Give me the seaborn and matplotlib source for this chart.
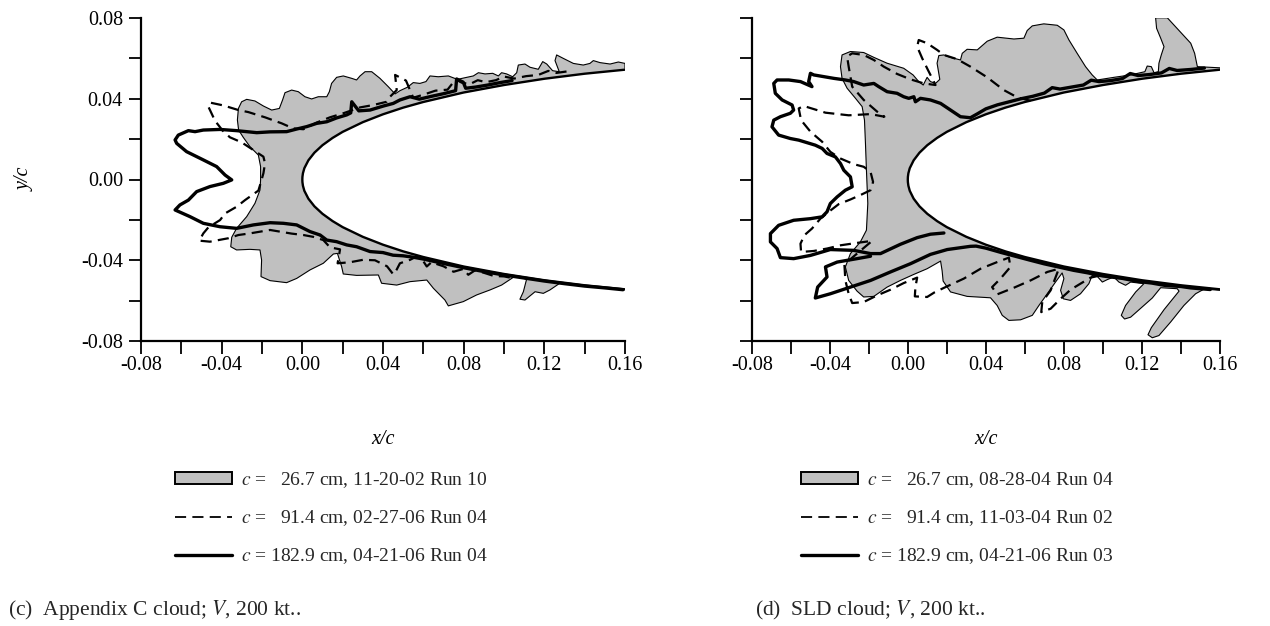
import matplotlib
matplotlib.use("Agg")
import matplotlib.pyplot as plt
from matplotlib.patches import Patch
from matplotlib.lines import Line2D
from matplotlib.ticker import FormatStrFormatter
import pandas as pd
import seaborn as sns

sns.set_theme(style="ticks")
plt.rcParams["font.family"] = ["Liberation Serif", "DejaVu Serif"]
plt.rcParams["mathtext.fontset"] = "stix"
plt.rcParams["axes.unicode_minus"] = False
plt.rcParams["lines.scale_dashes"] = False

# ---------------- data ----------------
# airfoil leading edge, upper surface
airfoil_x = [0.16, 0.14, 0.12, 0.10, 0.08, 0.06, 0.05, 0.04, 0.03, 0.02, 0.015,
             0.01, 0.006, 0.003, 0.001, 0.0003, 0.00005, 0.0]
airfoil_y = [0.0544, 0.0524, 0.0499, 0.0468, 0.0431, 0.0384, 0.0356, 0.0323, 0.0284,
             0.0236, 0.0206, 0.0170, 0.0133, 0.0095, 0.0056, 0.0031, 0.0013, 0.0]

x_major = [-0.08, -0.04, 0.0, 0.04, 0.08, 0.12, 0.16]
x_minor = [-0.06, -0.02, 0.02, 0.06, 0.10, 0.14]
y_major = [-0.08, -0.04, 0.0, 0.04, 0.08]
y_minor = [-0.06, -0.02, 0.02, 0.06]

# panel (c): c = 26.7 cm ice shape (grey)
c_grey_x = [0.1600, 0.1600, 0.1567, 0.1526, 0.1476, 0.1443, 0.1426, 0.1393, 0.1344, 0.1294,
            0.1261, 0.1253, 0.1274, 0.1241, 0.1212, 0.1192, 0.1170, 0.1129, 0.1104, 0.1071,
            0.1063, 0.1043, 0.1013, 0.0988, 0.0972, 0.0944, 0.0906, 0.0873, 0.0848, 0.0815,
            0.0769, 0.0724, 0.0674, 0.0633, 0.0613, 0.0583, 0.0550, 0.0521, 0.0484, 0.0460,
            0.0426, 0.0385, 0.0344, 0.0311, 0.0286, 0.0269, 0.0245, 0.0203, 0.0170, 0.0145,
            0.0134, 0.0121, 0.0079, 0.0046, 0.0013, -0.0020, -0.0053, -0.0086, -0.0098, -0.0114,
            -0.0152, -0.0193, -0.0235, -0.0276, -0.0301, -0.0317, -0.0322, -0.0316, -0.0293, -0.0260,
            -0.0218, -0.0207, -0.0207, -0.0210, -0.0235, -0.0276, -0.0326, -0.0350, -0.0355, -0.0326,
            -0.0260, -0.0210, -0.0202, -0.0205, -0.0160, -0.0078, -0.0028, 0.0038, 0.0104, 0.0154,
            0.0174, 0.0195, 0.0203, 0.0269, 0.0377, 0.0393, 0.0468, 0.0534, 0.0617, 0.0650,
            0.0707, 0.0724, 0.0798, 0.0864, 0.0931, 0.0988, 0.1038, 0.1055, 0.1112, 0.1096,
            0.1079, 0.1104, 0.1154, 0.1195, 0.1228, 0.1278]
c_grey_y = [0.0551, 0.0575, 0.0582, 0.0572, 0.0579, 0.0589, 0.0575, 0.0567, 0.0575, 0.0600,
            0.0617, 0.0589, 0.0534, 0.0539, 0.0572, 0.0584, 0.0546, 0.0556, 0.0572, 0.0567,
            0.0529, 0.0509, 0.0523, 0.0529, 0.0513, 0.0526, 0.0523, 0.0529, 0.0513, 0.0506,
            0.0496, 0.0513, 0.0509, 0.0513, 0.0485, 0.0476, 0.0480, 0.0457, 0.0440, 0.0424,
            0.0460, 0.0501, 0.0534, 0.0534, 0.0513, 0.0493, 0.0501, 0.0513, 0.0506, 0.0476,
            0.0435, 0.0410, 0.0410, 0.0399, 0.0410, 0.0435, 0.0443, 0.0430, 0.0394, 0.0352,
            0.0344, 0.0364, 0.0389, 0.0397, 0.0385, 0.0352, 0.0295, 0.0245, 0.0209, 0.0163,
            0.0121, 0.0064, -0.0002, -0.0052, -0.0118, -0.0184, -0.0242, -0.0286, -0.0333, -0.0349,
            -0.0346, -0.0349, -0.0399, -0.0481, -0.0501, -0.0511, -0.0490, -0.0448, -0.0415, -0.0369,
            -0.0366, -0.0432, -0.0468, -0.0475, -0.0473, -0.0514, -0.0523, -0.0506, -0.0498, -0.0539,
            -0.0597, -0.0626, -0.0605, -0.0572, -0.0547, -0.0523, -0.0490, -0.0478, -0.0494, -0.0556,
            -0.0593, -0.0597, -0.0556, -0.0564, -0.0547, -0.0513]

# panel (c): c = 91.4 cm (dashed)
c_dash_x = [0.131, 0.126, 0.122, 0.117, 0.111, 0.105, 0.100, 0.096, 0.091, 0.087,
            0.083, 0.079, 0.076, 0.072, 0.066, 0.060, 0.055, 0.0514, 0.0460, 0.0468,
            0.0430, 0.0418, 0.0352, 0.0286, 0.0203, 0.0137, 0.0071, 0.0005, -0.0045, -0.0102,
            -0.0185, -0.0268, -0.0317, -0.0392, -0.0458, -0.0466, -0.0433, -0.0395, -0.0359, -0.0301,
            -0.0243, -0.0193, -0.0185, -0.0193, -0.0207, -0.0218, -0.0284, -0.0326, -0.0383, -0.0408,
            -0.0466, -0.0491, -0.0511, -0.0458, -0.0367, -0.0317, -0.0260, -0.0160, -0.0053, 0.0005,
            0.0054, 0.0104, 0.0137, 0.0187, 0.0175, 0.0236, 0.0300, 0.0360, 0.0420, 0.0451,
            0.0468, 0.0484, 0.0534, 0.0567, 0.0600, 0.0617, 0.0640, 0.0700, 0.0750, 0.0798,
            0.0823, 0.0856, 0.0900, 0.0950, 0.1000, 0.1050]
c_dash_y = [0.0535, 0.0528, 0.0538, 0.0518, 0.0512, 0.0500, 0.0510, 0.0492, 0.0482, 0.0492,
            0.0472, 0.0480, 0.0496, 0.0445, 0.0440, 0.0420, 0.0405, 0.0490, 0.0518, 0.0443,
            0.0405, 0.0385, 0.0369, 0.0357, 0.0328, 0.0308, 0.0282, 0.0249, 0.0253, 0.0278,
            0.0308, 0.0334, 0.0344, 0.0367, 0.0381, 0.0361, 0.0291, 0.0242, 0.0209, 0.0184,
            0.0146, 0.0113, 0.0080, 0.0031, -0.0019, -0.0055, -0.0102, -0.0135, -0.0168, -0.0201,
            -0.0237, -0.0267, -0.0303, -0.0308, -0.0291, -0.0275, -0.0267, -0.0250, -0.0268, -0.0275,
            -0.0284, -0.0300, -0.0336, -0.0346, -0.0415, -0.0410, -0.0398, -0.0400, -0.0430, -0.0470,
            -0.0446, -0.0415, -0.0398, -0.0381, -0.0405, -0.0431, -0.0410, -0.0430, -0.0457, -0.0443,
            -0.0472, -0.0450, -0.0462, -0.0478, -0.0480, -0.0490]

# panel (c): c = 182.9 cm (solid)
c_solid_x = [0.104, 0.098, 0.092, 0.086, 0.081, 0.0798, 0.0765, 0.0760, 0.070, 0.064,
             0.058, 0.0534, 0.0484, 0.0451, 0.0402, 0.0336, 0.0280, 0.0245, 0.0240, 0.0220,
             0.0170, 0.0121, 0.0071, 0.0022, -0.0028, -0.0078, -0.0160, -0.0226, -0.0326, -0.0408,
             -0.0491, -0.0532, -0.0565, -0.0615, -0.0631, -0.0623, -0.0574, -0.0491, -0.0425, -0.0383,
             -0.0350, -0.0392, -0.0458, -0.0524, -0.0565, -0.0607, -0.0631, -0.0557, -0.0491, -0.0408,
             -0.0326, -0.0243, -0.0160, -0.0094, -0.0028, 0.0038, 0.0088, 0.0121, 0.0170, 0.0220,
             0.0269, 0.0336, 0.040, 0.045, 0.050, 0.055, 0.060, 0.065, 0.070, 0.080,
             0.090, 0.100, 0.110, 0.120, 0.130, 0.140, 0.150, 0.159]
c_solid_y = [0.0490, 0.0480, 0.0468, 0.0458, 0.0452, 0.0482, 0.0498, 0.0440, 0.0425, 0.0412,
             0.0398, 0.0410, 0.0394, 0.0377, 0.0364, 0.0344, 0.0340, 0.0385, 0.0330, 0.0320,
             0.0305, 0.0286, 0.0278, 0.0262, 0.0250, 0.0237, 0.0236, 0.0232, 0.0242, 0.0248,
             0.0245, 0.0237, 0.0242, 0.0220, 0.0196, 0.0179, 0.0138, 0.0097, 0.0064, 0.0022,
             -0.0002, -0.0019, -0.0035, -0.0060, -0.0102, -0.0126, -0.0151, -0.0184, -0.0217, -0.0234,
             -0.0242, -0.0225, -0.0214, -0.0217, -0.0225, -0.0258, -0.0275, -0.0300, -0.0308, -0.0324,
             -0.0333, -0.0357, -0.0362, -0.0375, -0.0378, -0.0385, -0.0394, -0.0405, -0.0416, -0.0437,
             -0.0456, -0.0473, -0.0488, -0.0503, -0.0516, -0.0528, -0.0537, -0.0546]

# panel (d): c = 26.7 cm ice shape (grey)
d_grey_x = [0.1603, 0.1484, 0.1470, 0.1450, 0.1390, 0.1330, 0.1270, 0.1275, 0.1296, 0.1313,
            0.1299, 0.1287, 0.1284, 0.1262, 0.1248, 0.1227, 0.1215, 0.1142, 0.1056, 0.0971,
            0.0945, 0.0911, 0.0868, 0.0826, 0.0800, 0.0766, 0.0697, 0.0638, 0.0612, 0.0595,
            0.0544, 0.0458, 0.0407, 0.0356, 0.0304, 0.0279, 0.0270, 0.0219, 0.0185, 0.0159,
            0.0150, 0.0164, 0.0142, 0.0116, 0.0099, 0.0079, 0.0056, 0.0027, -0.0021, -0.0106,
            -0.0174, -0.0226, -0.0294, -0.0337, -0.0345, -0.0337, -0.0311, -0.0268, -0.0234, -0.0222,
            -0.0217, -0.0212, -0.0205, -0.0212, -0.0243, -0.0294, -0.0320, -0.0303, -0.0260, -0.0226,
            -0.0174, -0.0106, -0.0038, 0.0031, 0.0099, 0.0168, 0.0176, 0.0181, 0.0219, 0.0304,
            0.0424, 0.0458, 0.0484, 0.0518, 0.0578, 0.0638, 0.0672, 0.0715, 0.0757, 0.0791,
            0.0800, 0.0783, 0.0797, 0.0834, 0.0885, 0.0928, 0.0945, 0.0971, 0.0997, 0.1022,
            0.1056, 0.1082, 0.1116, 0.1142, 0.1210, 0.1168, 0.1116, 0.1094, 0.1111, 0.1142,
            0.1197, 0.1253, 0.1296, 0.1381, 0.1390, 0.1313, 0.1248, 0.1231, 0.1253, 0.1287,
            0.1347, 0.1415, 0.1475, 0.1518, 0.1603]
d_grey_y = [0.0553, 0.0559, 0.0625, 0.0675, 0.0738, 0.0801, 0.0801, 0.0749, 0.0700, 0.0658,
            0.0617, 0.0576, 0.0534, 0.0529, 0.0559, 0.0562, 0.0534, 0.0518, 0.0506, 0.0493,
            0.0518, 0.0559, 0.0625, 0.0691, 0.0741, 0.0764, 0.0771, 0.0761, 0.0738, 0.0700,
            0.0696, 0.0705, 0.0685, 0.0642, 0.0645, 0.0625, 0.0592, 0.0605, 0.0617, 0.0614,
            0.0576, 0.0496, 0.0476, 0.0485, 0.0506, 0.0468, 0.0485, 0.0518, 0.0551, 0.0576,
            0.0605, 0.0629, 0.0634, 0.0617, 0.0559, 0.0501, 0.0452, 0.0402, 0.0361, 0.0294,
            0.0179, 0.0046, -0.0119, -0.0251, -0.0309, -0.0367, -0.0433, -0.0500, -0.0553, -0.0582,
            -0.0579, -0.0533, -0.0500, -0.0470, -0.0442, -0.0404, -0.0453, -0.0503, -0.0557, -0.0579,
            -0.0586, -0.0624, -0.0673, -0.0698, -0.0695, -0.0673, -0.0624, -0.0566, -0.0508, -0.0463,
            -0.0491, -0.0549, -0.0591, -0.0599, -0.0566, -0.0516, -0.0475, -0.0480, -0.0508, -0.0496,
            -0.0483, -0.0508, -0.0524, -0.0508, -0.0516, -0.0557, -0.0624, -0.0673, -0.0691, -0.0682,
            -0.0635, -0.0587, -0.0536, -0.0541, -0.0553, -0.0645, -0.0734, -0.0769, -0.0784, -0.0773,
            -0.0706, -0.0624, -0.0566, -0.0543, -0.0549]

# panel (d): c = 91.4 cm (dashed)
d_dash_x = [0.0629, 0.0561, 0.0492, 0.0407, 0.0321, 0.0253, 0.0185, 0.0150, 0.0099, 0.0056,
            0.0048, 0.0074, 0.0103, 0.0125, 0.0142, 0.0082, 0.0014, -0.0055, -0.0123, -0.0174,
            -0.0226, -0.0285, -0.0311, -0.0303, -0.0285, -0.0226, -0.0157, -0.0120, -0.0191, -0.0303,
            -0.0422, -0.0533, -0.0559, -0.0547, -0.0499, -0.0439, -0.0397, -0.0345, -0.0277, -0.0226,
            -0.0191, -0.0178, -0.0191, -0.0234, -0.0294, -0.0354, -0.0405, -0.0448, -0.0491, -0.0530,
            -0.0550, -0.0547, -0.0482, -0.0414, -0.0345, -0.0260, -0.0183, -0.0260, -0.0325, -0.0320,
            -0.0303, -0.0285, -0.0226, -0.0157, -0.0089, -0.0021, 0.0048, 0.0039, 0.0036, 0.0099,
            0.0137, 0.0202, 0.0287, 0.0373, 0.0458, 0.0518, 0.0526, 0.0475, 0.0432, 0.0458,
            0.0544, 0.0629, 0.0715, 0.0774, 0.0732, 0.0689, 0.0684, 0.0732, 0.0783, 0.0834,
            0.0885, 0.0937, 0.0988]
d_dash_y = [0.0390, 0.0407, 0.0443, 0.0506, 0.0559, 0.0596, 0.0617, 0.0642, 0.0675, 0.0691,
            0.0658, 0.0600, 0.0543, 0.0501, 0.0468, 0.0476, 0.0496, 0.0523, 0.0559, 0.0592,
            0.0617, 0.0625, 0.0609, 0.0559, 0.0460, 0.0394, 0.0336, 0.0311, 0.0324, 0.0318,
            0.0331, 0.0364, 0.0352, 0.0294, 0.0237, 0.0187, 0.0137, 0.0104, 0.0076, 0.0063,
            0.0038, -0.0012, -0.0053, -0.0073, -0.0099, -0.0122, -0.0160, -0.0194, -0.0243, -0.0276,
            -0.0318, -0.0359, -0.0354, -0.0342, -0.0326, -0.0314, -0.0304, -0.0367, -0.0420, -0.0500,
            -0.0566, -0.0612, -0.0607, -0.0574, -0.0546, -0.0513, -0.0486, -0.0533, -0.0579, -0.0582,
            -0.0559, -0.0529, -0.0491, -0.0442, -0.0409, -0.0387, -0.0433, -0.0491, -0.0533, -0.0569,
            -0.0536, -0.0500, -0.0458, -0.0442, -0.0549, -0.0607, -0.0657, -0.0640, -0.0591, -0.0546,
            -0.0516, -0.0486, -0.0475]

# panel (d): c = 182.9 cm (solid), two traced pieces
d_solid1_x = [0.152, 0.145, 0.138, 0.134, 0.130, 0.124, 0.118, 0.114, 0.110, 0.104,
              0.098, 0.094, 0.090, 0.084, 0.078, 0.074, 0.070, 0.064, 0.058, 0.052,
              0.046, 0.040, 0.0356, 0.0321, 0.0270, 0.0219, 0.0168, 0.0116, 0.0065, 0.0039,
              0.0031, 0.0005, -0.0021, -0.0055, -0.0106, -0.0149, -0.0174, -0.0226, -0.0277, -0.0320,
              -0.0379, -0.0482, -0.0499, -0.0508, -0.0491, -0.0550, -0.0610, -0.0670, -0.0687, -0.0679,
              -0.0644, -0.0593, -0.0585, -0.0602, -0.0653, -0.0687, -0.0696, -0.0662, -0.0602, -0.0559,
              -0.0474, -0.0439, -0.0414, -0.0371, -0.0345, -0.0328, -0.0294, -0.0285, -0.0320, -0.0362,
              -0.0397, -0.0414, -0.0439, -0.0499, -0.0585, -0.0662, -0.0704, -0.0704, -0.0670, -0.0653,
              -0.0585, -0.0499, -0.0397, -0.0277, -0.0191, -0.0140, -0.0038, 0.0048, 0.0116, 0.0185]
d_solid1_y = [0.0552, 0.0545, 0.0540, 0.0550, 0.0528, 0.0520, 0.0515, 0.0525, 0.0500, 0.0490,
              0.0485, 0.0492, 0.0468, 0.0458, 0.0448, 0.0455, 0.0428, 0.0412, 0.0400, 0.0385,
              0.0370, 0.0350, 0.0325, 0.0306, 0.0311, 0.0344, 0.0377, 0.0394, 0.0402, 0.0385,
              0.0410, 0.0402, 0.0410, 0.0427, 0.0435, 0.0460, 0.0476, 0.0468, 0.0485, 0.0493,
              0.0501, 0.0518, 0.0526, 0.0485, 0.0460, 0.0485, 0.0493, 0.0493, 0.0476, 0.0427,
              0.0394, 0.0369, 0.0344, 0.0328, 0.0311, 0.0294, 0.0261, 0.0220, 0.0203, 0.0195,
              0.0170, 0.0154, 0.0129, 0.0112, 0.0079, 0.0046, 0.0013, -0.0036, -0.0053, -0.0086,
              -0.0119, -0.0160, -0.0185, -0.0194, -0.0202, -0.0227, -0.0268, -0.0309, -0.0342, -0.0387,
              -0.0392, -0.0376, -0.0347, -0.0351, -0.0367, -0.0367, -0.0321, -0.0288, -0.0271, -0.0265]
d_solid2_x = [0.155, 0.145, 0.140, 0.132, 0.125, 0.118, 0.110, 0.100, 0.092, 0.085,
              0.078, 0.070, 0.062, 0.055, 0.048, 0.040, 0.035, 0.0321, 0.0202, 0.0116,
              0.0014, -0.0089, -0.0191, -0.0294, -0.0397, -0.0474, -0.0462, -0.0414, -0.0422, -0.0362,
              -0.0260, -0.0191]
d_solid2_y = [-0.0545, -0.0537, -0.0530, -0.0525, -0.0513, -0.0505, -0.0490, -0.0478, -0.0462, -0.0450,
              -0.0435, -0.0418, -0.0398, -0.0380, -0.0362, -0.0340, -0.0330, -0.0331, -0.0347, -0.0371,
              -0.0417, -0.0458, -0.0500, -0.0533, -0.0566, -0.0587, -0.0533, -0.0483, -0.0433, -0.0409,
              -0.0392, -0.0380]

labels_c = [r"$c$ =   26.7 cm, 11-20-02 Run 10",
            r"$c$ =   91.4 cm, 02-27-06 Run 04",
            r"$c$ = 182.9 cm, 04-21-06 Run 04"]
labels_d = [r"$c$ =   26.7 cm, 08-28-04 Run 04",
            r"$c$ =   91.4 cm, 11-03-04 Run 02",
            r"$c$ = 182.9 cm, 04-21-06 Run 03"]
caption_c = r"(c)  Appendix C cloud; $V$, 200 kt.."
caption_d = r"(d)  SLD cloud; $V$, 200 kt.."

# ---------------- drawing ----------------
GREY = "#c0c0c0"
FS = 14.5
LEG_FS = 14
DASH = (0, (8, 4.5))

af_x = airfoil_x + airfoil_x[::-1][1:]
af_y = airfoil_y + [-v for v in airfoil_y[::-1][1:]]

fig = plt.figure(figsize=(12.7, 6.26), dpi=100)
fig.patch.set_facecolor("white")
axL = fig.add_axes([141 / 1270, 1 - 341 / 626, 484 / 1270, 323 / 626])
axR = fig.add_axes([751.7 / 1270, 1 - 341 / 626, 468.3 / 1270, 323 / 626])


def line(ax, xs, ys, lw, z, dashed=False):
    df = pd.DataFrame({"x": xs, "y": ys})
    sns.lineplot(data=df, x="x", y="y", sort=False, estimator=None, color="black",
                 linewidth=lw, zorder=z, ax=ax)
    ln = ax.lines[-1]
    ln.set_solid_capstyle("round")
    ln.set_solid_joinstyle("round")
    if dashed:
        ln.set_linestyle(DASH)
        ln.set_dash_capstyle("butt")


def panel(ax, gx, gy, dashes, solids, ylabels):
    ax.fill(gx, gy, facecolor=GREY, edgecolor="none", zorder=1)
    ax.fill(af_x, af_y, facecolor="white", edgecolor="none", zorder=2)
    line(ax, gx, gy, 0.8, 3)
    line(ax, af_x, af_y, 1.7, 4)
    for xs, ys in dashes:
        line(ax, xs, ys, 1.6, 5, dashed=True)
    for xs, ys in solids:
        line(ax, xs, ys, 2.4, 6)
    ax.set_xlim(-0.08, 0.16)
    ax.set_ylim(-0.08, 0.08)
    ax.set_xticks(x_major)
    ax.set_xticks(x_minor, minor=True)
    ax.set_yticks(y_major)
    ax.set_yticks(y_minor, minor=True)
    ax.xaxis.set_major_formatter(FormatStrFormatter("%.2f"))
    ax.yaxis.set_major_formatter(FormatStrFormatter("%.2f"))
    sns.despine(ax=ax)
    for s in ("left", "bottom"):
        ax.spines[s].set_linewidth(1.6)
        ax.spines[s].set_color("black")
    ax.tick_params(which="both", direction="out", length=9, width=1.3, color="black",
                   labelsize=FS, labelcolor="black")
    ax.tick_params(axis="x", which="both", pad=2)
    ax.tick_params(axis="y", which="both", pad=4)
    if not ylabels:
        ax.tick_params(axis="y", labelleft=False)
    ax.set_ylabel("")
    ax.set_xlabel("x/c", style="italic", fontsize=FS, color="black")
    ax.xaxis.set_label_coords(0.5, -(440 - 341) / 323)
    ax.xaxis.label.set_va("center")
    ax.set_facecolor("white")
    ax.grid(False)


panel(axL, c_grey_x, c_grey_y, [(c_dash_x, c_dash_y)], [(c_solid_x, c_solid_y)], True)
panel(axR, d_grey_x, d_grey_y, [(d_dash_x, d_dash_y)],
      [(d_solid1_x, d_solid1_y), (d_solid2_x, d_solid2_y)], False)
axL.set_ylabel("y/c", style="italic", fontsize=FS, color="black")
axL.yaxis.set_label_coords((25 - 141) / 484, 0.5)
axL.yaxis.label.set_va("center")

handles = [Patch(facecolor=GREY, edgecolor="black", linewidth=1.4),
           Line2D([], [], color="black", linewidth=1.3, linestyle=(0, (8, 4.5))),
           Line2D([], [], color="black", linewidth=2.4)]

for labels, xr in ((labels_c, 488), (labels_d, 1114)):
    fig.legend(handles, labels, loc="upper right", bbox_to_anchor=(xr / 1270, 1 - 470 / 626),
               frameon=False, fontsize=LEG_FS, borderpad=0, borderaxespad=0, handlelength=2.9,
               handleheight=0.5, handletextpad=0.5, labelspacing=0.95)

fig.text(8 / 1270, 1 - 610 / 626, caption_c, ha="left", va="center", fontsize=15.5)
fig.text(755 / 1270, 1 - 610 / 626, caption_d, ha="left", va="center", fontsize=15.5)

fig.savefig("out.png", dpi=100, facecolor="white")
